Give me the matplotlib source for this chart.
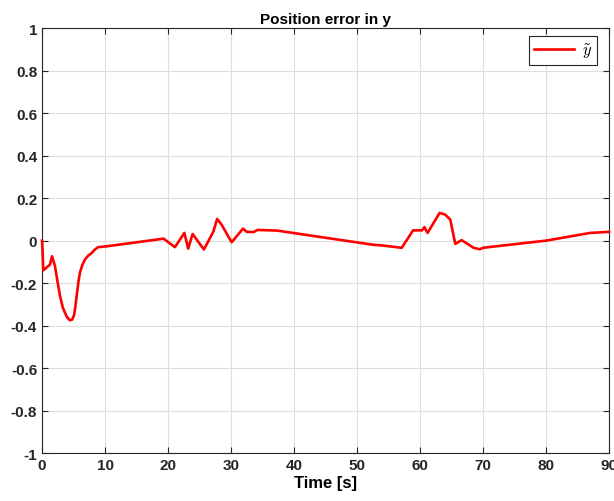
import numpy as np
import matplotlib
matplotlib.use('Agg')
import matplotlib.pyplot as plt

# values
t = [0, 0.05, 0.2, 1.27, 1.6, 2.06, 2.5, 2.86, 3.3, 3.65, 4.0, 4.44, 4.8, 5.1, 5.3,
     5.5, 5.8, 6.03, 6.4, 6.8, 7.3, 7.9, 8.4, 8.9,
     10.3, 19.3, 21.1, 22.6, 23.2, 23.9, 25.7, 27.2, 27.8, 28.5, 30.1, 31.9, 32.5,
     33.6, 34.2, 37.3, 52.6, 53.7, 57.1, 58.9, 60.3, 60.7, 61.2, 63.1, 64.0, 64.8,
     65.6, 66.6, 68.5, 69.5, 70.0, 80.1, 87.0, 90.0]
y_err = [0, -0.02, -0.14, -0.113, -0.074, -0.12, -0.2, -0.26, -0.315, -0.34, -0.362,
         -0.375, -0.372, -0.35, -0.31, -0.26, -0.19, -0.15, -0.115, -0.09, -0.072,
         -0.058, -0.042, -0.031, -0.027, 0.009, -0.031, 0.036, -0.038, 0.031,
         -0.042, 0.042, 0.102, 0.075, -0.008, 0.056, 0.041, 0.040, 0.050, 0.047,
         -0.02, -0.022, -0.034, 0.048, 0.048, 0.063, 0.036, 0.13, 0.122, 0.099,
         -0.016, 0.002, -0.034, -0.041, -0.034, 0.0, 0.036, 0.041]

plt.rcParams['font.family'] = ['Liberation Sans', 'DejaVu Sans']
plt.rcParams['mathtext.fontset'] = 'cm'

fig = plt.figure(figsize=(6.14, 5.02), dpi=100)
ax = fig.add_axes([0.0684, 0.0956, 0.9235, 0.8464])
ax.plot(t, y_err, color='#FF0000', linewidth=1.9, label=r'$\tilde{y}$',
        clip_on=False, zorder=5)

ax.set_xlim(0, 90)
ax.set_ylim(-1, 1)
ax.set_xticks(np.arange(0, 91, 10))
ax.set_yticks(np.round(np.arange(-1, 1.01, 0.2), 1))
ax.set_yticklabels(['-1', '-0.8', '-0.6', '-0.4', '-0.2', '0', '0.2', '0.4', '0.6', '0.8', '1'])
ax.tick_params(direction='in', top=True, right=True, length=4, width=0.8,
               labelsize=11, colors='#262626')
for lab in ax.get_xticklabels() + ax.get_yticklabels():
    lab.set_fontweight('bold')
for s in ax.spines.values():
    s.set_color('#262626')
    s.set_linewidth(0.8)
ax.grid(True, color='#DDDDDD', linewidth=0.8)

ax.set_title('Position error in y', fontsize=11, fontweight='bold', pad=4)
ax.set_xlabel('Time [s]', fontsize=12, fontweight='bold', labelpad=2)

leg = ax.legend(loc='upper right', fontsize=12, fancybox=False, framealpha=1,
                edgecolor='#262626', handlelength=2.4, handletextpad=0.5,
                borderpad=0.3, borderaxespad=0.2, bbox_to_anchor=(0.985, 0.99))
leg.get_frame().set_linewidth(0.8)

fig.savefig('out.png', dpi=100)
